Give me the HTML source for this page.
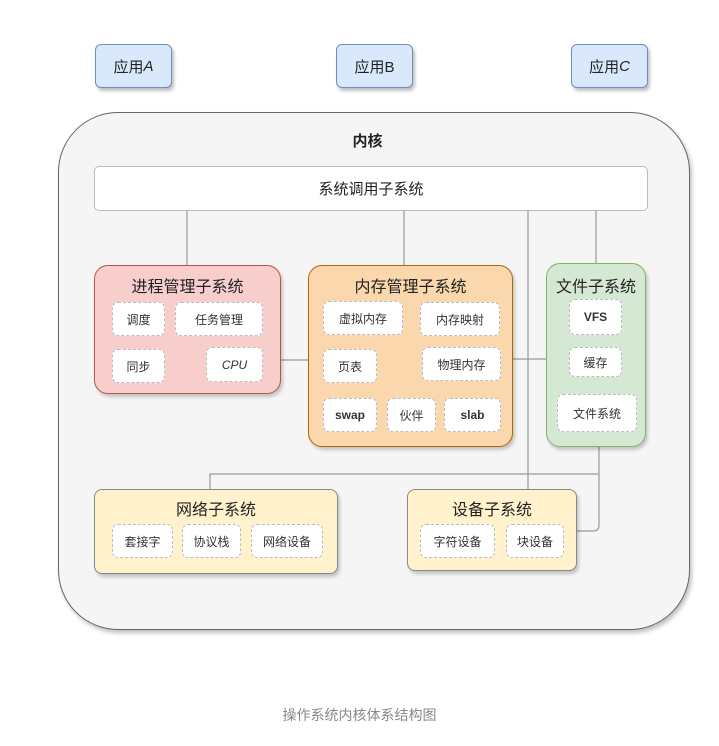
<!DOCTYPE html>
<html><head><meta charset="utf-8"><style>
body{margin:0;width:719px;height:746px;background:#fff;font-family:"Liberation Sans","Noto Sans CJK SC",sans-serif;position:relative;overflow:hidden}
.a{position:absolute;box-sizing:border-box}
.app{background:#dae8fc;border:1px solid #6c8ebf;border-radius:6px;box-shadow:2px 3px 3px rgba(0,0,0,.25);font-size:15px;color:#222;display:flex;align-items:center;justify-content:center}
.grp{border-radius:14px;box-shadow:2px 3px 3px rgba(0,0,0,.2);font-size:16px;color:#222;text-align:center}
.c{background:#fff;border:1px dashed #bbb;border-radius:6px;font-size:12px;color:#333;display:flex;align-items:center;justify-content:center}
.t{position:absolute;left:0;right:0;text-align:center;font-size:16px}
</style></head><body>
<div class="a app" style="left:95px;top:44px;width:77px;height:44px">应用<i>A</i></div>
<div class="a app" style="left:336px;top:44px;width:77px;height:44px">应用B</div>
<div class="a app" style="left:571px;top:44px;width:77px;height:44px">应用<i>C</i></div>
<div class="a" style="left:58px;top:112px;width:632px;height:518px;background:#f5f5f5;border:1px solid #666;border-radius:60px;box-shadow:2px 3px 4px rgba(0,0,0,.25)"></div>
<div class="a" style="left:0;width:719px;top:130px;text-align:center;font-size:15px;font-weight:bold;color:#222;padding-left:16px">内核</div>
<svg class="a" style="left:0;top:0" width="719" height="746"><g stroke="#999" stroke-width="1.2" fill="none">
<path d="M187 211V265M404 211V265M528 211V489M596 211V263M281 360H308M513 359H546M599 447V474H210V489M599 474V525Q599 531 593 531H577"/></g></svg>
<div class="a" style="left:94px;top:166px;width:554px;height:45px;background:#fff;border:1px solid #bbb;border-radius:5px;font-size:15px;display:flex;align-items:center;justify-content:center;color:#222">系统调用子系统</div>

<div class="a grp" style="left:94px;top:265px;width:187px;height:129px;background:#f8cecc;border:1px solid #b85450"><div class="t" style="top:7px">进程管理子系统</div></div>
<div class="a c" style="left:112px;top:302px;width:53px;height:34px">调度</div>
<div class="a c" style="left:175px;top:302px;width:88px;height:34px">任务管理</div>
<div class="a c" style="left:112px;top:349px;width:53px;height:34px">同步</div>
<div class="a c" style="left:206px;top:347px;width:57px;height:35px"><i>CPU</i></div>

<div class="a grp" style="left:308px;top:265px;width:205px;height:182px;background:#fad7ac;border:1px solid #b46504"><div class="t" style="top:7px">内存管理子系统</div></div>
<div class="a c" style="left:323px;top:301px;width:80px;height:34px">虚拟内存</div>
<div class="a c" style="left:420px;top:302px;width:80px;height:34px">内存映射</div>
<div class="a c" style="left:323px;top:349px;width:54px;height:34px">页表</div>
<div class="a c" style="left:422px;top:347px;width:79px;height:34px">物理内存</div>
<div class="a c" style="left:323px;top:398px;width:54px;height:34px;font-weight:bold">swap</div>
<div class="a c" style="left:387px;top:398px;width:49px;height:34px">伙伴</div>
<div class="a c" style="left:444px;top:398px;width:57px;height:34px;font-weight:bold">slab</div>

<div class="a grp" style="left:546px;top:263px;width:100px;height:184px;background:#d5e8d4;border:1px solid #82b366"><div class="t" style="top:9px">文件子系统</div></div>
<div class="a c" style="left:569px;top:299px;width:53px;height:36px;font-weight:bold">VFS</div>
<div class="a c" style="left:569px;top:347px;width:53px;height:30px">缓存</div>
<div class="a c" style="left:557px;top:394px;width:80px;height:38px">文件系统</div>

<div class="a grp" style="left:94px;top:489px;width:244px;height:85px;background:#fff2cc;border:1px solid #888;border-radius:8px"><div class="t" style="top:6px">网络子系统</div></div>
<div class="a c" style="left:112px;top:524px;width:61px;height:34px">套接字</div>
<div class="a c" style="left:182px;top:524px;width:59px;height:34px">协议栈</div>
<div class="a c" style="left:251px;top:524px;width:72px;height:34px">网络设备</div>

<div class="a grp" style="left:407px;top:489px;width:170px;height:82px;background:#fff2cc;border:1px solid #888;border-radius:8px"><div class="t" style="top:6px">设备子系统</div></div>
<div class="a c" style="left:420px;top:524px;width:75px;height:34px">字符设备</div>
<div class="a c" style="left:506px;top:524px;width:58px;height:34px">块设备</div>

<div class="a" style="left:0;width:719px;top:705px;text-align:center;font-size:14px;color:#888">操作系统内核体系结构图</div>
</body></html>
